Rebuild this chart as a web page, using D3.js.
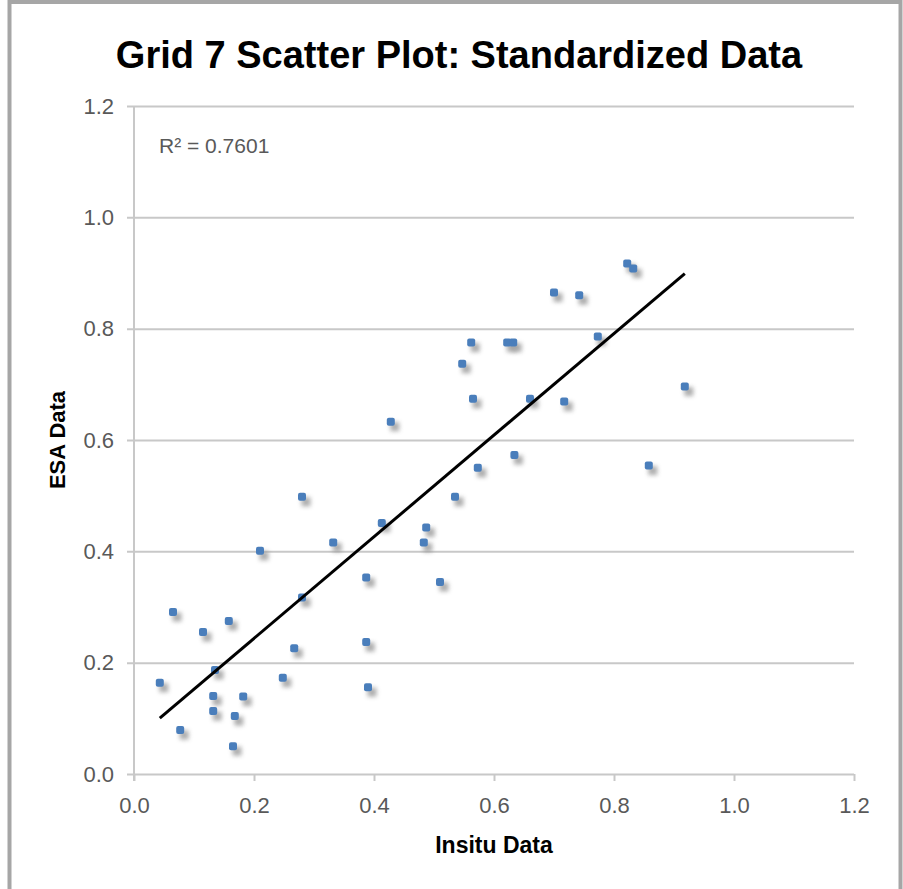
<!DOCTYPE html>
<html>
<head>
<meta charset="utf-8">
<script src="https://cdn.jsdelivr.net/npm/d3@7"></script>
<style>
  body { margin: 0; background: #fff; }
  text { font-family: "Liberation Sans", Arial, sans-serif; }
</style>
</head>
<body>
<svg id="chart" width="903" height="889"></svg>
<script>
// values
var insitu = [0.822, 0.832, 0.700, 0.742, 0.773, 0.562, 0.622, 0.632, 0.547, 0.565,
              0.660, 0.717, 0.918, 0.428, 0.634, 0.573, 0.858, 0.535, 0.280, 0.413,
              0.487, 0.483, 0.332, 0.210, 0.387, 0.510, 0.280, 0.043, 0.065, 0.115,
              0.158, 0.267, 0.387, 0.135, 0.132, 0.182, 0.132, 0.168, 0.077, 0.165,
              0.248, 0.390];
var esa    = [0.917, 0.908, 0.865, 0.860, 0.786, 0.775, 0.775, 0.775, 0.737, 0.674,
              0.674, 0.669, 0.696, 0.633, 0.573, 0.550, 0.554, 0.498, 0.498, 0.451,
              0.443, 0.416, 0.416, 0.401, 0.353, 0.345, 0.317, 0.164, 0.291, 0.255,
              0.275, 0.226, 0.237, 0.187, 0.140, 0.139, 0.113, 0.104, 0.079, 0.050,
              0.173, 0.156];
var xTicks = [0, 0.2, 0.4, 0.6, 0.8, 1.0, 1.2];
var yTicks = [0, 0.2, 0.4, 0.6, 0.8, 1.0, 1.2];
var rSquaredLabel = "R² = 0.7601";

var svg = d3.select("#chart");
var margin = {left: 134, right: 49, top: 106, bottom: 115};
var width = 903 - margin.left - margin.right,
    height = 889 - margin.top - margin.bottom;

// outer frame
svg.append("rect")
    .attr("x", 9.5).attr("y", 2)
    .attr("width", 891).attr("height", 910)
    .attr("fill", "none")
    .attr("stroke", "#a6a6a6")
    .attr("stroke-width", 4);

svg.append("text")
    .attr("x", 459).attr("y", 68)
    .attr("text-anchor", "middle")
    .attr("font-size", 38).attr("font-weight", "bold")
    .attr("fill", "#000")
    .text("Grid 7 Scatter Plot: Standardized Data");

var g = svg.append("g").attr("transform", "translate(" + margin.left + "," + margin.top + ")");

var x = d3.scaleLinear().domain([0, 1.2]).range([0, width]);
var y = d3.scaleLinear().domain([0, 1.2]).range([height, 0]);

// horizontal gridlines with little ticks
var yAxis = g.append("g")
    .call(d3.axisLeft(y).tickValues(yTicks).tickSize(-width).tickSizeOuter(0).tickPadding(20)
      .tickFormat(d3.format(".1f")));
yAxis.select(".domain").remove();
yAxis.selectAll(".tick line").attr("stroke", "#c8c8c8").attr("stroke-width", 2).attr("x1", -7);
yAxis.selectAll(".tick text").attr("font-size", 22).attr("fill", "#595959")
    .attr("font-family", "Liberation Sans, Arial, sans-serif");

var xAxis = g.append("g")
    .attr("transform", "translate(0," + height + ")")
    .call(d3.axisBottom(x).tickValues(xTicks).tickSize(7).tickSizeOuter(0).tickPadding(16)
      .tickFormat(d3.format(".1f")));
xAxis.select(".domain").remove();
xAxis.selectAll(".tick line").attr("stroke", "#c8c8c8").attr("stroke-width", 2);
xAxis.selectAll(".tick text").attr("font-size", 22).attr("fill", "#595959")
    .attr("font-family", "Liberation Sans, Arial, sans-serif");

// vertical axis line
g.append("line")
    .attr("x1", 0).attr("x2", 0).attr("y1", 0).attr("y2", height + 7)
    .attr("stroke", "#c8c8c8").attr("stroke-width", 2);

// points with soft shadow
var defs = svg.append("defs");
defs.append("filter").attr("id", "blur")
    .attr("x", "-100%").attr("y", "-100%").attr("width", "300%").attr("height", "300%")
  .append("feGaussianBlur").attr("stdDeviation", 2);

var pts = insitu.map(function(d, i) { return {x: d, y: esa[i]}; });

g.append("g").selectAll("rect")
    .data(pts)
    .enter().append("rect")
    .attr("x", function(d) { return x(d.x) - 0.5; })
    .attr("y", function(d) { return y(d.y) + 0.5; })
    .attr("width", 9).attr("height", 9)
    .attr("fill", "#8c8c8c")
    .attr("opacity", 0.7)
    .attr("filter", "url(#blur)");

g.append("g").selectAll("rect")
    .data(pts)
    .enter().append("rect")
    .attr("x", function(d) { return x(d.x) - 4; })
    .attr("y", function(d) { return y(d.y) - 4; })
    .attr("width", 8).attr("height", 8)
    .attr("rx", 2)
    .attr("fill", "#4a7ebb");

// least squares trendline
var mx = d3.mean(insitu), my = d3.mean(esa);
var sxy = d3.sum(pts, function(d) { return (d.x - mx) * (d.y - my); });
var sxx = d3.sum(pts, function(d) { return (d.x - mx) * (d.x - mx); });
var slope = sxy / sxx, icept = my - slope * mx;
var ext = d3.extent(insitu);
g.append("line")
    .attr("x1", x(ext[0])).attr("y1", y(icept + slope * ext[0]))
    .attr("x2", x(ext[1])).attr("y2", y(icept + slope * ext[1]))
    .attr("stroke", "#000").attr("stroke-width", 3);

g.append("text")
    .attr("x", 25).attr("y", 47)
    .attr("font-size", 21).attr("fill", "#595959")
    .text(rSquaredLabel);

svg.append("text")
    .attr("x", margin.left + width / 2).attr("y", 853)
    .attr("text-anchor", "middle")
    .attr("font-size", 23).attr("font-weight", "bold")
    .text("Insitu Data");

svg.append("text")
    .attr("transform", "translate(65," + (margin.top + height / 2) + ") rotate(-90)")
    .attr("text-anchor", "middle")
    .attr("font-size", 22).attr("font-weight", "bold")
    .text("ESA Data");
</script>
</body>
</html>
